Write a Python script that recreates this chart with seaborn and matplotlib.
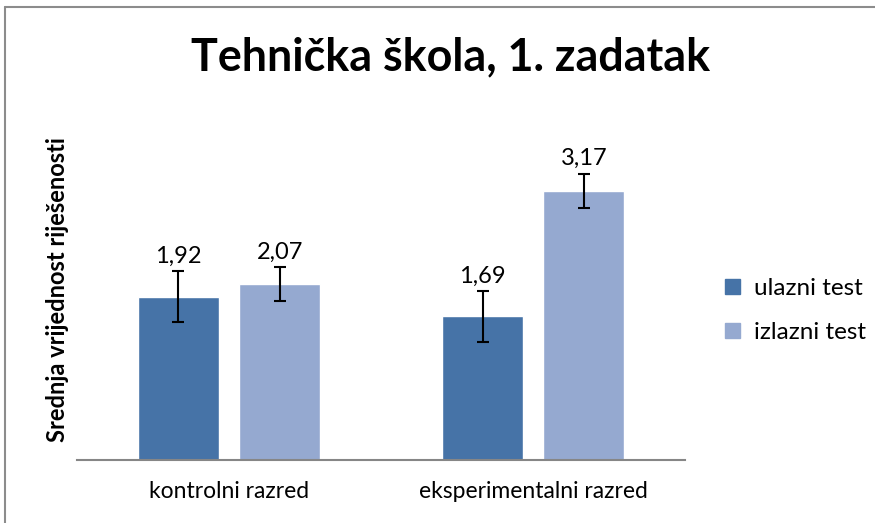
import pandas as pd
import seaborn as sns
import matplotlib.pyplot as plt
from matplotlib.lines import Line2D

# === 1. Data ===
razredi = ["kontrolni razred", "eksperimentalni razred"]
testovi = ["ulazni test", "izlazni test"]
ulazni = [1.92, 1.69]
izlazni = [2.07, 3.17]
err_ulazni = [0.30, 0.30]
err_izlazni = [0.20, 0.20]

df = pd.DataFrame({
    "razred": razredi * 2,
    "test": [testovi[0]] * 2 + [testovi[1]] * 2,
    "vrijednost": ulazni + izlazni,
    "greska": err_ulazni + err_izlazni,
})

sns.set_style("white")
plt.rcParams["font.family"] = ["Lato", "DejaVu Sans"]
plt.rcParams["text.color"] = "black"
plt.rcParams["axes.labelcolor"] = "black"
plt.rcParams["xtick.color"] = "black"

boje = ["#4673A7", "#95A9D0"]

# === 2. Plot ===
fig = plt.figure(figsize=(8.75, 5.23), dpi=100)
ax = fig.add_axes([0.0882, 0.1205, 0.6949, 0.6501])
sns.barplot(data=df, x="razred", y="vrijednost", hue="test", order=razredi,
            hue_order=testovi, palette=boje, width=0.667, gap=0.2,
            errorbar=None, saturation=1, ax=ax)

# error bars + value labels from the drawn bars
for cont, t in zip(ax.containers, testovi):
    sub = df[df["test"] == t].set_index("razred").loc[razredi]
    for bar, v, e in zip(cont, sub["vrijednost"], sub["greska"]):
        xc = bar.get_x() + bar.get_width() / 2
        ax.errorbar(xc, v, yerr=e, color="black", capsize=4, elinewidth=1.5,
                    capthick=1.5)
        ax.annotate(f"{v:.2f}".replace(".", ","), (xc, v + e),
                    xytext=(0, 6), textcoords="offset points",
                    ha="center", va="baseline", fontsize=17)

ax.set_ylim(0, 4)
ax.set_xlim(-0.5, 1.5)
ax.set_yticks([])
ax.set_xlabel("")
ax.set_ylabel("Srednja vrijednost riješenosti", fontsize=17,
              fontweight="bold", labelpad=6)
ax.tick_params(axis="x", length=0, pad=15, labelsize=16.5)
for s in ["top", "right", "left"]:
    ax.spines[s].set_visible(False)
ax.spines["bottom"].set_color("#868686")
ax.spines["bottom"].set_linewidth(1.5)

fig.suptitle("Tehnička škola, 1. zadatak", fontsize=32.3, fontweight="bold",
             x=0.515, y=0.93)

handles = [plt.Rectangle((0, 0), 1, 1, color=c) for c in boje]
ax.legend(handles, testovi, loc="center left", bbox_to_anchor=(1.03, 0.44),
          frameon=False, fontsize=17.5, handlelength=0.6, handleheight=0.6,
          handletextpad=0.6, labelspacing=0.95)

# chart frame (left and top edges visible)
fig.add_artist(Line2D([0.006, 0.006], [0, 0.987], color="#8c8c8c", lw=1.5))
fig.add_artist(Line2D([0.006, 1], [0.987, 0.987], color="#8c8c8c", lw=1.5))

# === 3. Save ===
fig.savefig("out.png", dpi=100)
print("saved out.png")
